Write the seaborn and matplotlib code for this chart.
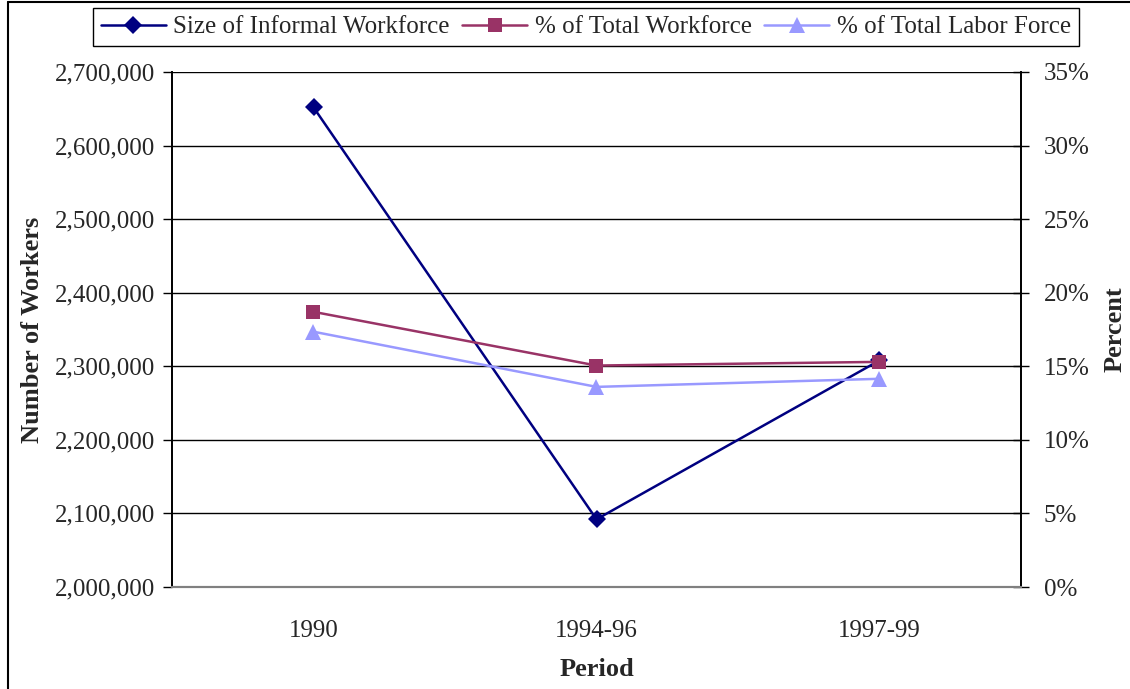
import matplotlib
matplotlib.use("Agg")
import matplotlib.pyplot as plt
import seaborn as sns
import pandas as pd
from matplotlib.ticker import FuncFormatter
from matplotlib.lines import Line2D

sns.set_theme(style="white")
plt.rcParams['font.family'] = ['Liberation Serif', 'DejaVu Serif']

periods = ['1990', '1994-96', '1997-99']
informal_size = [2652000, 2092000, 2308000]
pct_workforce = [18.7, 15.05, 15.3]
pct_labor_force = [17.35, 13.6, 14.15]

df = pd.DataFrame({'pos': range(len(periods)), 'period': periods,
                   'size': informal_size, 'pct_wf': pct_workforce,
                   'pct_lf': pct_labor_force})

fig = plt.figure(figsize=(11.3, 6.89), dpi=100)
ax = fig.add_axes([172 / 1130, 1 - 587 / 689, (1021 - 172) / 1130, (587 - 72) / 689])
ax2 = ax.twinx()

navy = '#000080'
plum = '#993366'
lilac = '#9999ff'
fs = 18

sns.lineplot(data=df, x='pos', y='size', ax=ax, color=navy, marker='D',
             markersize=9, markeredgewidth=0, linewidth=1.8)
sns.lineplot(data=df, x='pos', y='pct_wf', ax=ax2, color=plum, marker='s',
             markersize=10, markeredgewidth=0, linewidth=1.8)
sns.lineplot(data=df, x='pos', y='pct_lf', ax=ax2, color=lilac, marker='^',
             markersize=12, markeredgewidth=0, linewidth=1.8)

ax.set_ylim(2000000, 2700000)
ax.set_yticks(range(2000000, 2700001, 100000))
ax.yaxis.set_major_formatter(FuncFormatter(lambda v, p: f'{int(v):,}'))
ax2.set_ylim(0, 35)
ax2.set_yticks(range(0, 36, 5))
ax2.yaxis.set_major_formatter(FuncFormatter(lambda v, p: f'{int(v)}%'))

ax.set_xlim(-0.5, 2.5)
ax.set_xticks([-0.5, 0.5, 1.5, 2.5])
ax.set_xticklabels([])
ax.set_xticks(range(3), minor=True)
ax.set_xticklabels(periods, minor=True)
ax.tick_params(axis='x', which='minor', length=0, pad=24, labelsize=fs)
ax.tick_params(axis='x', which='major', length=6.5, width=1, color='black', direction='out')
ax.tick_params(axis='y', length=6.5, width=1, color='black', direction='out', labelsize=fs, pad=5.5)
ax2.tick_params(axis='y', length=11, width=1, color='black', direction='inout', labelsize=fs, pad=11)

ax.grid(axis='y', color='black', linewidth=1)
ax2.grid(False)

for a in (ax, ax2):
    a.spines['top'].set_visible(False)
    a.spines['left'].set_color('black')
    a.spines['right'].set_color('black')
    a.spines['bottom'].set_color('#808080')
    a.spines['bottom'].set_linewidth(1.5)

ax.set_xlabel('Period', fontsize=19, fontweight='bold', labelpad=11)
ax.set_ylabel('Number of Workers', fontsize=19, fontweight='bold', labelpad=8)
ax2.set_ylabel('Percent', fontsize=19, fontweight='bold', labelpad=10)

handles = [
    Line2D([], [], color=navy, marker='D', markersize=9, markeredgewidth=0, linewidth=1.8),
    Line2D([], [], color=plum, marker='s', markersize=10, markeredgewidth=0, linewidth=1.8),
    Line2D([], [], color=lilac, marker='^', markersize=12, markeredgewidth=0, linewidth=1.8),
]
labels = ['Size of Informal Workforce', '% of Total Workforce', '% of Total Labor Force']
leg = fig.legend(handles, labels, loc='center', bbox_to_anchor=(586 / 1130, 1 - 27 / 689),
                 ncol=3, fontsize=fs, frameon=True, fancybox=False, framealpha=1,
                 edgecolor='black', borderpad=0.3, columnspacing=0.5,
                 handlelength=2.6, handletextpad=0.3)
leg.get_frame().set_linewidth(1)

# outer chart border (left and top edges visible)
fig.add_artist(Line2D([8 / 1130, 8 / 1130], [0, 1 - 2 / 689], color='black', linewidth=1.5,
                      transform=fig.transFigure))
fig.add_artist(Line2D([8 / 1130, 1], [1 - 2 / 689, 1 - 2 / 689], color='black', linewidth=1.5,
                      transform=fig.transFigure))

fig.savefig('out.png', dpi=100)
